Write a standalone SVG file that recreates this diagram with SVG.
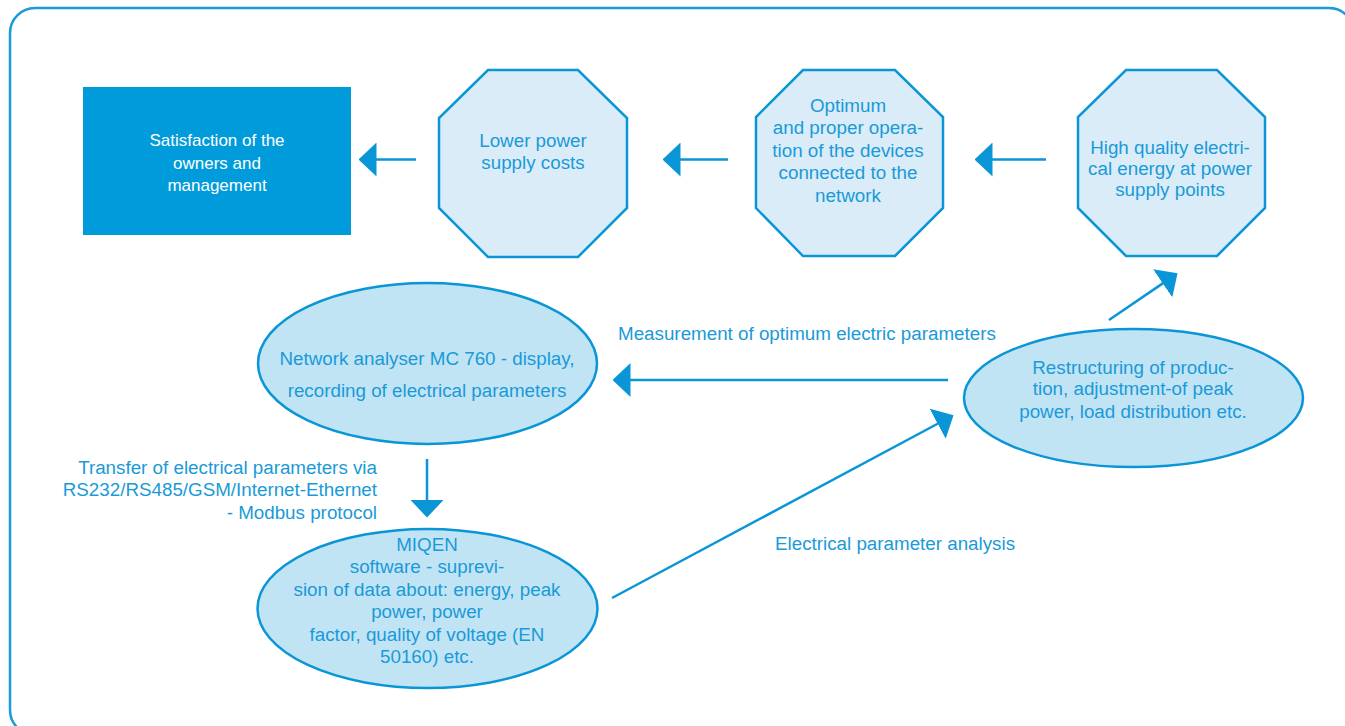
<svg xmlns="http://www.w3.org/2000/svg" width="1345" height="726" viewBox="0 0 1345 726">
<style>
.frame{fill:#ffffff;stroke:#1a9ad8;stroke-width:2.5}
.oct{fill:#d9ecf8;stroke:#0a96d6;stroke-width:2.5}
.ell{fill:#c1e4f5;stroke:#0a96d6;stroke-width:2.5}
.box{fill:#009bdb}
.t{font-family:"Liberation Sans",Arial,sans-serif;font-size:18.8px;fill:#1a9ad8;text-anchor:middle}
.w{font-family:"Liberation Sans",Arial,sans-serif;font-size:17px;fill:#ffffff;text-anchor:middle}
.lbl{font-family:"Liberation Sans",Arial,sans-serif;font-size:18.8px;fill:#1a9ad8}
.con{stroke:#0a96d6;stroke-width:2.5;fill:none;marker-end:url(#ah)}
</style>
<defs>
<marker id="ah" viewBox="0 -17 18 34" refX="0.5" refY="0" markerWidth="18" markerHeight="34" markerUnits="userSpaceOnUse" orient="auto">
<path d="M0,-17 L18,0 L0,17 Z" fill="#0a96d6"/>
</marker>
</defs>
<rect class="frame" x="10" y="8" width="1344" height="727" rx="25" ry="25"/>

<g id="satisfaction">
<rect class="box" x="83" y="87" width="268" height="148"/>
<text class="w" x="217" y="146">Satisfaction of the</text>
<text class="w" x="217" y="169">owners and</text>
<text class="w" x="217" y="191">management</text>
</g>

<g id="lower-costs">
<polygon class="oct" points="488,70 578,70 627,118 627,208 578,257 488,257 439,208 439,118"/>
<text class="t" x="533" y="146.5">Lower power</text>
<text class="t" x="533" y="168.5">supply costs</text>
</g>

<g id="optimum-operation">
<polygon class="oct" points="803,70 895,70 943,117 943,208 895,256 803,256 756,208 756,117"/>
<text class="t" x="848" y="111.5">Optimum</text>
<text class="t" x="848" y="134">and proper opera-</text>
<text class="t" x="848" y="156.5">tion of the devices</text>
<text class="t" x="848" y="179">connected to the</text>
<text class="t" x="848" y="201.5">network</text>
</g>

<g id="high-quality">
<polygon class="oct" points="1126,70 1217,70 1265,117 1265,208 1217,256 1126,256 1078,208 1078,117"/>
<text class="t" x="1170" y="153.5">High quality electri-</text>
<text class="t" x="1170" y="175">cal energy at power</text>
<text class="t" x="1170" y="196">supply points</text>
</g>

<g id="network-analyser">
<ellipse class="ell" cx="427.5" cy="363.5" rx="169.5" ry="80.5"/>
<text class="t" x="427" y="364.5">Network analyser MC 760 - display,</text>
<text class="t" x="427" y="396.5">recording of electrical parameters</text>
</g>

<g id="restructuring">
<ellipse class="ell" cx="1133.5" cy="398" rx="169.5" ry="69"/>
<text class="t" x="1133" y="373.5">Restructuring of produc-</text>
<text class="t" x="1133" y="395">tion, adjustment-of peak</text>
<text class="t" x="1133" y="417.5">power, load distribution etc.</text>
</g>

<g id="miqen">
<ellipse class="ell" cx="427.5" cy="608.5" rx="170" ry="79.5"/>
<text class="t" x="427" y="550.5">MIQEN</text>
<text class="t" x="427" y="573">software - suprevi-</text>
<text class="t" x="427" y="595.5">sion of data about: energy, peak</text>
<text class="t" x="427" y="618">power, power</text>
<text class="t" x="427" y="640.5">factor, quality of voltage (EN</text>
<text class="t" x="427" y="663">50160) etc.</text>
</g>

<g id="connectors">
<line class="con" x1="416" y1="159.5" x2="376" y2="159.5"/>
<line class="con" x1="728" y1="159.5" x2="680" y2="159.5"/>
<line class="con" x1="1046" y1="159.5" x2="992" y2="159.5"/>
<line class="con" x1="1109" y1="320" x2="1163.1" y2="283.1"/>
<line class="con" x1="948" y1="380" x2="630" y2="380"/>
<line class="con" x1="612" y1="598" x2="938.1" y2="423.5"/>
<line class="con" x1="427" y1="459" x2="427" y2="500"/>
<text class="lbl" x="618" y="339.5">Measurement of optimum electric parameters</text>
<text class="lbl" x="775" y="549.5">Electrical parameter analysis</text>
<text class="lbl" x="377" y="473.5" text-anchor="end">Transfer of electrical parameters via</text>
<text class="lbl" x="377" y="495.5" text-anchor="end">RS232/RS485/GSM/Internet-Ethernet</text>
<text class="lbl" x="377" y="518.5" text-anchor="end">- Modbus protocol</text>
</g>
</svg>
